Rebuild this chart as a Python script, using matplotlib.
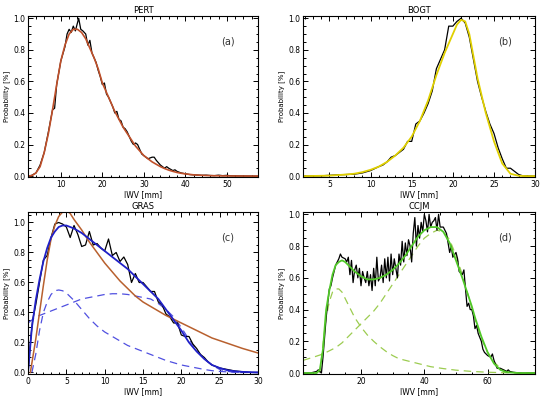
import matplotlib
matplotlib.use('Agg')
import matplotlib.pyplot as plt
from matplotlib.ticker import MultipleLocator, FormatStrFormatter

# ---- PERT ----
pert_x = [2, 3, 4, 5, 6, 7, 8, 8.5, 9, 10, 11, 11.5, 12, 12.5, 13, 13.5, 14, 14.3, 14.8, 15.3,
          16, 16.5, 17, 17.5, 18, 18.5, 19, 19.5, 20, 20.5, 21, 21.5, 22, 22.5, 23, 23.5, 24,
          24.5, 25, 25.5, 26, 26.5, 27, 27.5, 28, 28.5, 29, 29.5, 30, 31, 32, 32.5, 33, 34, 35,
          35.5, 36, 37, 37.5, 38, 39, 40, 41, 42, 44, 45, 46, 47, 48, 49, 50, 51, 53, 57.5]
pert_obs = [0, 0.005, 0.02, 0.07, 0.15, 0.28, 0.42, 0.43, 0.58, 0.73, 0.82, 0.9, 0.93, 0.91,
            0.95, 0.92, 0.97, 1.0, 0.93, 0.92, 0.9, 0.83, 0.86, 0.78, 0.75, 0.72, 0.67, 0.63,
            0.58, 0.59, 0.52, 0.5, 0.47, 0.44, 0.4, 0.41, 0.36, 0.35, 0.31, 0.3, 0.28, 0.25,
            0.22, 0.2, 0.21, 0.2, 0.17, 0.14, 0.13, 0.11, 0.12, 0.12, 0.1, 0.07, 0.05, 0.06,
            0.05, 0.035, 0.04, 0.03, 0.02, 0.015, 0.01, 0.008, 0.005, 0.006, 0.004, 0.003,
            0.006, 0.003, 0.005, 0.002, 0.001, 0]
pert_fit_x = [2, 3, 4, 5, 6, 7, 8, 9, 10, 11, 12, 13, 14, 15, 16, 17, 18, 19, 20, 21, 22, 23,
              24, 25, 26, 27, 28, 29, 30, 31, 32, 33, 34, 35, 36, 37, 38, 39, 40, 42, 44, 46,
              50, 57.5]
pert_fit = [0, 0.003, 0.02, 0.06, 0.15, 0.27, 0.42, 0.58, 0.73, 0.83, 0.9, 0.93, 0.93, 0.91,
            0.87, 0.81, 0.75, 0.68, 0.59, 0.53, 0.47, 0.41, 0.36, 0.31, 0.27, 0.23, 0.19, 0.16,
            0.13, 0.11, 0.09, 0.075, 0.06, 0.048, 0.038, 0.03, 0.023, 0.018, 0.014, 0.008,
            0.005, 0.003, 0.001, 0]

# ---- BOGT ----
bogt_x = [2, 4, 5, 6, 7, 8, 9, 10, 11, 11.5, 12, 12.5, 13, 13.5, 14, 14.5, 15, 15.5, 16, 16.5,
          17, 17.5, 18, 18.5, 19, 19.5, 20, 20.5, 21, 21.5, 22, 22.5, 23, 23.5, 24, 24.5, 25,
          25.5, 26, 26.5, 27, 27.5, 28, 28.5, 30]
bogt_obs = [0, 0.002, 0.005, 0.008, 0.01, 0.012, 0.02, 0.035, 0.06, 0.07, 0.09, 0.12, 0.13,
            0.15, 0.17, 0.22, 0.22, 0.33, 0.35, 0.4, 0.46, 0.54, 0.68, 0.74, 0.8, 0.95, 0.95,
            0.98, 1.0, 0.97, 0.88, 0.74, 0.6, 0.5, 0.41, 0.33, 0.27, 0.18, 0.11, 0.05, 0.05,
            0.03, 0.01, 0.002, 0]
bogt_fit_x = [2, 5, 7, 8, 9, 10, 11, 12, 13, 14, 15, 16, 17, 18, 19, 20, 20.5, 21, 21.5, 22,
              23, 24, 25, 26, 27, 28, 29, 30]
bogt_fit = [0, 0.003, 0.01, 0.015, 0.025, 0.04, 0.06, 0.09, 0.13, 0.18, 0.25, 0.35, 0.48,
            0.64, 0.78, 0.9, 0.96, 0.99, 0.98, 0.9, 0.62, 0.4, 0.22, 0.08, 0.015, 0.002, 0, 0]

# ---- GRAS ----
gras_x = [0, 0.3, 0.6, 1, 1.5, 2, 2.5, 3, 3.5, 4, 4.5, 5, 5.5, 6, 6.5, 7, 7.5, 8, 8.5, 9, 9.5,
          10, 10.5, 11, 11.5, 12, 12.5, 13, 13.5, 14, 14.5, 15, 15.5, 16, 16.5, 17, 17.5, 18,
          18.5, 19, 19.5, 20, 20.5, 21, 21.5, 22, 22.5, 23, 23.5, 24, 25, 26, 27, 28, 29, 30]
gras_obs = [0, 0.2, 0.35, 0.45, 0.6, 0.75, 0.78, 0.9, 0.99, 1.0, 0.99, 0.97, 0.9, 0.98, 0.92,
            0.84, 0.85, 0.94, 0.85, 0.86, 0.83, 0.81, 0.89, 0.78, 0.8, 0.74, 0.77, 0.72, 0.6,
            0.66, 0.6, 0.6, 0.57, 0.54, 0.54, 0.47, 0.45, 0.39, 0.37, 0.33, 0.33, 0.25, 0.24,
            0.24, 0.19, 0.16, 0.12, 0.1, 0.07, 0.05, 0.03, 0.02, 0.01, 0.005, 0.0, 0]
gras_gam_x = [0.3, 1, 1.5, 2, 2.5, 3, 3.5, 4, 4.5, 5, 5.5, 6, 7, 8, 9, 10, 11, 12, 13, 14, 15,
              16, 17, 18, 19, 20, 22, 24, 26, 28, 30]
gras_gam = [0, 0.22, 0.4, 0.58, 0.75, 0.89, 0.98, 1.04, 1.07, 1.08, 1.06, 1.02, 0.95, 0.87,
            0.8, 0.73, 0.67, 0.61, 0.56, 0.51, 0.47, 0.44, 0.41, 0.38, 0.355, 0.33, 0.28, 0.23,
            0.195, 0.16, 0.13]
gras_fit_x = [0, 0.5, 1, 1.5, 2, 2.5, 3, 3.5, 4, 4.5, 5, 6, 7, 8, 9, 10, 11, 12, 13, 14, 15, 16,
              17, 18, 19, 20, 21, 22, 23, 24, 25, 26, 27, 28, 29, 30]
gras_fit = [0, 0.3, 0.48, 0.62, 0.74, 0.83, 0.9, 0.94, 0.97, 0.98, 0.98, 0.96, 0.93, 0.89,
            0.85, 0.81, 0.77, 0.73, 0.69, 0.64, 0.59, 0.54, 0.49, 0.42, 0.35, 0.28, 0.2, 0.14,
            0.09, 0.05, 0.03, 0.015, 0.008, 0.004, 0.002, 0]
gras_c1_x = [0.5, 1, 1.5, 2, 2.5, 3, 3.5, 4, 4.5, 5, 6, 7, 8, 9, 10, 11, 12, 13, 14, 15, 16,
             17, 18, 19, 20, 21, 22, 23, 24, 25, 26, 28, 30]
gras_c1 = [0, 0.12, 0.28, 0.4, 0.47, 0.52, 0.545, 0.55, 0.545, 0.53, 0.48, 0.42, 0.36, 0.31,
           0.27, 0.24, 0.21, 0.18, 0.16, 0.14, 0.12, 0.1, 0.08, 0.065, 0.05, 0.04, 0.03, 0.02,
           0.012, 0.007, 0.004, 0.001, 0]
gras_c2_x = [0, 0.5, 1, 2, 3, 4, 5, 6, 7, 8, 9, 10, 11, 12, 13, 14, 15, 16, 17, 18, 19, 20, 21,
             22, 23, 24, 25, 26, 27, 30]
gras_c2 = [0.33, 0.35, 0.37, 0.39, 0.41, 0.43, 0.45, 0.47, 0.49, 0.5, 0.51, 0.52, 0.525, 0.525,
           0.52, 0.51, 0.5, 0.49, 0.46, 0.42, 0.37, 0.3, 0.22, 0.15, 0.09, 0.05, 0.02, 0.008,
           0, 0]

# ---- CCJM ----
ccjm_x = [2, 4, 6, 6.5, 7, 7.5, 8, 9, 10, 10.5, 11, 12, 13, 13.5, 14, 15, 15.5, 16, 16.5, 17,
          17.5, 18, 18.5, 19, 19.5, 20, 20.5, 21, 21.5, 22, 22.5, 23, 23.5, 24, 24.5, 25, 25.5,
          26, 26.5, 27, 27.5, 28, 28.5, 29, 29.5, 30, 30.5, 31, 31.5, 32, 32.5, 33, 33.5, 34,
          34.5, 35, 35.5, 36, 36.5, 37, 37.5, 38, 38.5, 39, 39.5, 40, 40.5, 41, 41.5, 42, 42.5,
          43, 43.5, 44, 44.5, 45, 46, 47, 48, 48.5, 49, 50, 50.5, 51, 52, 52.5, 53, 53.5, 54,
          54.5, 55, 55.5, 56, 56.5, 57, 58, 58.5, 59, 60, 61, 61.5, 62, 63, 64, 65, 66, 66.5,
          67, 68, 70, 75]
ccjm_obs = [0, 0, 0.01, 0.02, 0.01, 0.0, 0.1, 0.35, 0.53, 0.55, 0.6, 0.68, 0.72, 0.75, 0.73,
            0.72, 0.7, 0.73, 0.62, 0.71, 0.57, 0.65, 0.68, 0.6, 0.66, 0.55, 0.64, 0.6, 0.57,
            0.64, 0.55, 0.62, 0.52, 0.66, 0.55, 0.73, 0.58, 0.6, 0.68, 0.57, 0.72, 0.6, 0.73,
            0.58, 0.75, 0.62, 0.72, 0.66, 0.6, 0.75, 0.68, 0.83, 0.7, 0.82, 0.74, 0.84, 0.8,
            0.7, 0.88, 0.98, 0.8, 0.93, 0.85, 0.95, 0.89, 1.0, 0.96, 0.89, 1.0, 0.92, 0.95,
            0.96, 0.98, 0.9, 1.0, 0.92, 0.92, 0.88, 0.76, 0.8, 0.73, 0.76, 0.72, 0.64, 0.62,
            0.65, 0.53, 0.42, 0.44, 0.4, 0.4, 0.36, 0.28, 0.3, 0.25, 0.2, 0.15, 0.13, 0.11, 0.1,
            0.12, 0.08, 0.03, 0.03, 0.02, 0.01, 0.02, 0.01, 0.005, 0, 0]
ccjm_fit_x = [2, 6, 7, 8, 8.7, 9, 10, 11, 12, 13, 14, 15, 16, 18, 20, 22, 24, 26, 28, 30, 32,
              34, 36, 38, 40, 42, 44, 46, 48, 50, 52, 54, 55, 56, 58, 60, 62, 64, 66, 70, 75]
ccjm_fit = [0, 0, 0.02, 0.15, 0.33, 0.4, 0.52, 0.62, 0.68, 0.7, 0.71, 0.7, 0.68, 0.64, 0.61,
            0.59, 0.59, 0.6, 0.62, 0.65, 0.69, 0.74, 0.8, 0.86, 0.9, 0.92, 0.92, 0.89, 0.82,
            0.71, 0.6, 0.48, 0.42, 0.35, 0.23, 0.13, 0.06, 0.02, 0.005, 0, 0]
ccjm_c1_x = [7, 8, 9, 10, 11, 12, 13, 14, 15, 16, 17, 18, 20, 22, 24, 26, 28, 30, 32, 35, 38,
             42, 46, 50, 55, 60, 65, 75]
ccjm_c1 = [0, 0.18, 0.35, 0.45, 0.51, 0.53, 0.53, 0.51, 0.47, 0.43, 0.39, 0.35, 0.29, 0.24,
           0.2, 0.165, 0.135, 0.11, 0.09, 0.075, 0.06, 0.04, 0.028, 0.018, 0.01, 0.005, 0.002, 0]
ccjm_c2_x = [1.7, 5, 8, 10, 12, 14, 16, 18, 20, 22, 24, 26, 28, 30, 32, 34, 36, 38, 40, 42, 44,
             46, 48, 50, 52, 54, 56, 58, 60, 62, 64, 66, 68, 70, 75]
ccjm_c2 = [0.08, 0.1, 0.12, 0.14, 0.16, 0.19, 0.23, 0.27, 0.31, 0.35, 0.39, 0.44, 0.5, 0.56,
           0.62, 0.68, 0.74, 0.8, 0.85, 0.88, 0.9, 0.89, 0.84, 0.74, 0.62, 0.48, 0.34, 0.22,
           0.13, 0.07, 0.03, 0.01, 0.003, 0, 0]


def style(ax, title, tag, xlim, ylim, xmajor, xminor):
    ax.set_xlim(*xlim)
    ax.set_ylim(*ylim)
    ax.set_title(title, fontsize=6, pad=2)
    ax.set_xlabel('IWV [mm]', fontsize=5.5, labelpad=1)
    ax.set_ylabel('Probability [%]', fontsize=5, labelpad=2)
    ax.xaxis.set_major_locator(MultipleLocator(xmajor))
    ax.xaxis.set_minor_locator(MultipleLocator(xminor))
    ax.yaxis.set_major_locator(MultipleLocator(0.2))
    ax.yaxis.set_minor_locator(MultipleLocator(0.05))
    ax.yaxis.set_major_formatter(FormatStrFormatter('%.1f'))
    ax.tick_params(which='both', direction='in', top=True, right=True,
                   labelsize=5.5, width=0.7, pad=2)
    ax.tick_params(which='major', length=3.5)
    ax.tick_params(which='minor', length=1.8)
    for s in ax.spines.values():
        s.set_linewidth(0.8)
    ax.text(0.84, 0.84, tag, transform=ax.transAxes, fontsize=7, color='#333333',
            va='center')


fig = plt.figure(figsize=(5.5, 3.97), dpi=100)
ax_a = fig.add_axes([0.051, 0.554, 0.418, 0.406])
ax_b = fig.add_axes([0.551, 0.554, 0.422, 0.406])
ax_c = fig.add_axes([0.051, 0.058, 0.418, 0.408])
ax_d = fig.add_axes([0.551, 0.058, 0.422, 0.408])

ax_a.plot(pert_x, pert_obs, color='black', lw=0.9)
ax_a.plot(pert_fit_x, pert_fit, color='#c0502a', lw=1.2)
style(ax_a, 'PERT', '(a)', (2.1, 57.5), (-0.006, 1.015), 10, 2)

ax_b.plot(bogt_x, bogt_obs, color='black', lw=0.9)
ax_b.plot(bogt_fit_x, bogt_fit, color='#e0d000', lw=1.3)
style(ax_b, 'BOGT', '(b)', (1.8, 30), (-0.006, 1.015), 5, 1)

dash = (0, (6, 4))
ax_c.plot(gras_c1_x, gras_c1, color='#5050e0', lw=0.9, ls=dash)
ax_c.plot(gras_c2_x, gras_c2, color='#5050e0', lw=0.9, ls=dash)
ax_c.plot(gras_x, gras_obs, color='black', lw=0.9)
ax_c.plot(gras_gam_x, gras_gam, color='#b8602e', lw=1.1)
ax_c.plot(gras_fit_x, gras_fit, color='#2020c8', lw=1.3)
style(ax_c, 'GRAS', '(c)', (0, 30), (-0.01, 1.07), 5, 1)

ax_d.plot(ccjm_c1_x, ccjm_c1, color='#9ccc50', lw=0.9, ls=dash)
ax_d.plot(ccjm_c2_x, ccjm_c2, color='#9ccc50', lw=0.9, ls=dash)
ax_d.plot(ccjm_x, ccjm_obs, color='black', lw=0.9)
ax_d.plot(ccjm_fit_x, ccjm_fit, color='#50c828', lw=1.3)
style(ax_d, 'CCJM', '(d)', (1.7, 75), (-0.006, 1.015), 20, 5)

fig.savefig('out.png', dpi=100)
